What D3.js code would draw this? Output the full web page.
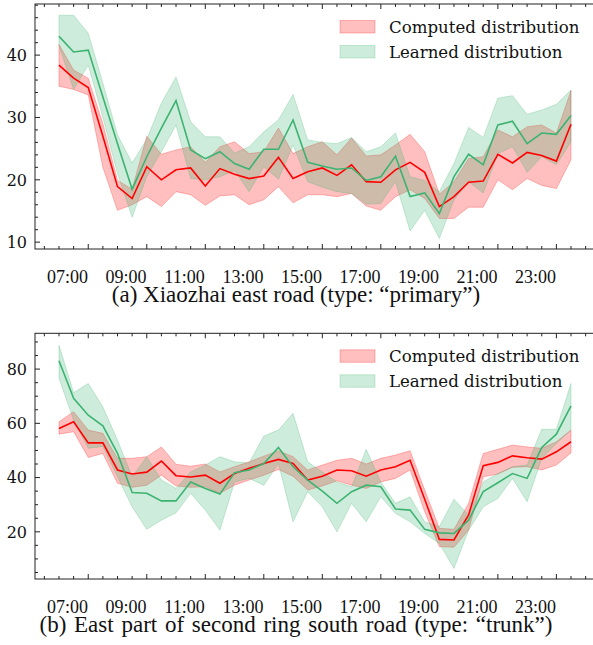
<!DOCTYPE html>
<html>
<head>
<meta charset="utf-8">
<script src="https://cdn.jsdelivr.net/npm/d3@7"></script>
<style>
body { margin: 0; background: #fff; }
svg text { fill: #111; }
</style>
</head>
<body>
<svg id="fig" width="593" height="645"></svg>
<script>
// half-hour slots
var times = ["06:30","07:00","07:30","08:00","08:30","09:00","09:30","10:00","10:30","11:00","11:30","12:00",
	"12:30","13:00","13:30","14:00","14:30","15:00","15:30","16:00","16:30","17:00","17:30","18:00",
	"18:30","19:00","19:30","20:00","20:30","21:00","21:30","22:00","22:30","23:00","23:30","24:00"];
var xLabels = ["07:00","09:00","11:00","13:00","15:00","17:00","19:00","21:00","23:00"];

// (a) Xiaozhai east road
var aCompMean = [38.4,36.3,34.8,27.0,18.9,17.0,22.1,20.0,21.6,21.9,19.0,21.8,20.9,20.2,20.6,23.6,20.2,21.3,21.9,20.7,22.4,19.7,19.6,21.6,22.8,21.2,15.7,17.3,19.6,19.8,24.1,22.7,24.4,23.9,23.0,28.9];
var aCompHigh = [41.7,37.6,36.3,29.0,19.9,18.5,27.0,24.1,24.8,25.3,22.8,25.3,26.1,24.2,24.5,28.3,24.2,25.3,26.1,24.0,26.7,23.8,24.0,25.6,27.3,24.5,17.7,19.7,23.4,23.7,28.0,26.9,28.5,28.8,27.5,34.3];
var aCompLow  = [35.0,34.5,33.6,22.0,15.1,16.0,17.3,15.7,18.1,17.6,15.9,17.4,17.6,16.0,16.8,18.9,16.3,17.6,17.6,17.3,17.8,15.8,15.1,17.3,18.4,17.0,13.8,13.8,15.6,15.6,20.0,18.4,20.2,19.1,18.6,23.2];
var aLearnMean = [43.0,40.5,40.8,33.3,25.8,18.5,23.7,28.3,32.7,24.8,23.4,24.5,22.6,21.7,24.9,24.9,29.6,22.8,22.2,21.7,21.9,19.9,20.5,23.8,17.3,17.9,14.6,20.5,24.1,22.4,28.8,29.4,25.8,27.5,27.3,30.3];
var aLearnHigh = [46.4,46.4,43.5,35.5,27.2,22.7,26.5,32.3,36.5,29.3,26.9,26.9,24.3,25.3,27.7,29.6,33.7,26.4,26.0,25.8,26.8,24.5,25.3,27.5,20.5,19.9,18.1,22.6,28.4,26.8,33.1,33.5,30.5,31.2,32.1,34.4];
var aLearnLow  = [41.5,34.5,38.4,30.0,21.0,14.0,20.5,24.5,28.8,20.2,20.0,20.5,21.5,18.1,22.1,20.1,25.6,19.7,18.8,18.1,17.8,16.1,16.2,19.7,11.8,15.1,10.6,16.8,19.7,17.9,24.2,25.3,21.2,23.7,22.4,26.1];

// (b) East part of second ring south road
var bCompMean = [58.1,60.6,52.8,52.8,42.8,41.3,42.0,46.1,40.7,40.2,40.9,37.9,41.5,43.4,45.2,46.7,45.2,39.1,40.5,42.8,42.5,40.5,42.8,44.0,46.4,32.0,17.2,17.0,26.2,44.4,45.6,48.0,47.3,46.8,49.5,53.2];
var bCompHigh = [60.6,64.3,57.5,56.3,47.1,47.1,47.7,51.3,44.9,44.2,45.0,42.1,44.0,45.8,47.9,49.9,47.7,42.8,44.6,46.4,47.1,45.0,47.1,48.3,49.9,35.4,21.3,20.9,30.5,48.9,50.4,52.0,51.3,50.8,53.2,57.5];
var bCompLow  = [56.0,56.9,47.4,48.9,37.9,36.4,37.2,40.9,36.9,36.4,36.6,34.2,37.2,39.1,40.9,43.0,40.5,35.4,36.9,38.8,37.2,36.0,38.4,39.7,42.8,27.4,14.5,14.3,20.6,40.3,41.3,43.8,44.0,42.8,44.6,49.1];
var bLearnMean = [83.1,69.2,63.0,59.1,48.9,34.5,34.2,31.4,31.4,38.4,36.0,33.9,41.8,42.8,45.2,51.1,44.0,39.1,35.0,30.5,34.8,37.2,36.6,28.4,28.0,20.9,19.6,19.4,24.3,34.8,38.1,41.5,39.7,51.1,56.0,66.4];
var bLearnHigh = [88.8,71.3,74.7,66.0,53.8,40.3,47.7,39.1,36.0,42.1,44.6,47.7,45.8,45.4,55.3,57.5,63.7,45.8,42.1,38.4,36.6,50.4,38.4,30.5,32.9,23.7,21.9,32.0,26.2,38.4,41.5,44.0,44.6,57.8,57.8,74.7];
var bLearnLow  = [76.6,61.2,50.8,51.5,40.3,29.2,20.9,24.3,27.0,34.2,28.0,20.6,38.4,39.7,37.2,45.2,23.7,34.8,29.2,20.0,30.5,23.7,32.9,26.8,23.7,19.4,15.7,6.5,20.6,29.2,32.3,39.7,31.1,47.1,52.6,57.5];

var seriesNames = ["Computed distribution", "Learned distribution"];
var seriesColors = ["#ff0000", "#3cb371"];

var svg = d3.select("#fig");

var x = d3.scaleLinear().domain([-1.64, 36.64]).range([35, 595]);

function drawPanel(p) {
	var g = svg.append("g");
	var y = d3.scaleLinear().domain(p.yDomain).range([p.bottom, p.top]);
	var clipId = "clip" + p.id;
	g.append("clipPath").attr("id", clipId).append("rect")
		.attr("x", 35).attr("y", p.top).attr("width", 560).attr("height", p.bottom - p.top);

	var plot = g.append("g").attr("clip-path", "url(#" + clipId + ")");
	var sets = [
		{mean: p.comp[0], low: p.comp[1], high: p.comp[2], color: seriesColors[0]},
		{mean: p.learn[0], low: p.learn[1], high: p.learn[2], color: seriesColors[1]}
	];
	var area = d3.area()
		.x(function(d) { return x(times.indexOf(d.t)); })
		.y0(function(d) { return y(d.lo); })
		.y1(function(d) { return y(d.hi); });
	var line = d3.line()
		.x(function(d, i) { return x(i); })
		.y(function(d) { return y(d); });

	sets.forEach(function(s) {
		var rows = times.map(function(t, i) { return {t: t, lo: s.low[i], hi: s.high[i]}; });
		plot.append("path").datum(rows)
			.attr("d", area)
			.attr("fill", s.color).attr("fill-opacity", 0.25)
			.attr("stroke", s.color).attr("stroke-opacity", 0.25).attr("stroke-width", 1);
	});
	sets.forEach(function(s) {
		plot.append("path").datum(s.mean)
			.attr("d", line)
			.attr("fill", "none").attr("stroke", s.color).attr("stroke-width", 1.6);
	});

	// frame
	g.append("rect").attr("x", 35).attr("y", p.top).attr("width", 560).attr("height", p.bottom - p.top)
		.attr("fill", "none").attr("stroke", "#222").attr("stroke-width", 1);

	// x ticks, inward on bottom and top
	var xt = d3.range(-1, 37);
	xt.forEach(function(v) {
		var len = ((v - 2) % 4 === 0) ? 5 : 3;
		g.append("line").attr("x1", x(v)).attr("x2", x(v)).attr("y1", p.bottom).attr("y2", p.bottom - len)
			.attr("stroke", "#222");
		g.append("line").attr("x1", x(v)).attr("x2", x(v)).attr("y1", p.top).attr("y2", p.top + len)
			.attr("stroke", "#222");
	});

	// y ticks
	var ymin = d3.range(Math.ceil(p.yDomain[0] / p.minorStep) * p.minorStep, p.yDomain[1], p.minorStep);
	ymin.forEach(function(v) {
		var major = p.yMajor.indexOf(v) >= 0;
		g.append("line").attr("x1", 35).attr("x2", 35 + (major ? 5 : 3))
			.attr("y1", y(v)).attr("y2", y(v)).attr("stroke", "#222");
	});
	g.selectAll("text.ytick").data(p.yMajor).enter().append("text")
		.attr("class", "ytick")
		.attr("x", 27).attr("y", function(d) { return y(d); })
		.attr("dy", "0.36em")
		.attr("text-anchor", "end")
		.style("font-family", "DejaVu Serif").style("font-size", "16px")
		.text(function(d) { return d; });

	// time labels
	g.selectAll("text.xlab").data(xLabels).enter().append("text")
		.attr("class", "xlab")
		.attr("x", function(d) { return x(times.indexOf(d) - 0.42); })
		.attr("y", p.bottom + 33.5)
		.attr("text-anchor", "middle")
		.style("font-family", "'Liberation Serif'").style("font-size", "18px")
		.text(function(d) { return d; });

	g.append("text")
		.attr("x", 296).attr("y", p.bottom + 53)
		.attr("text-anchor", "middle")
		.style("font-family", "'Liberation Serif'").style("font-size", "23px")
		.style("word-spacing", p.wordSpacing + "px")
		.text(p.caption);

	// legend
	seriesNames.forEach(function(name, k) {
		var ly = p.top + 16.5 + k * 25;
		g.append("rect").attr("x", 340).attr("y", ly).attr("width", 35).attr("height", 12.5)
			.attr("fill", seriesColors[k]).attr("fill-opacity", 0.25)
			.attr("stroke", seriesColors[k]).attr("stroke-opacity", 0.25);
		g.append("text").attr("x", 389).attr("y", ly + 12)
			.style("font-family", "DejaVu Serif").style("font-size", "16.6px")
			.text(name);
	});
}

drawPanel({id: "a", top: 4, bottom: 249, yDomain: [8.9, 48.2], yMajor: [10, 20, 30, 40], minorStep: 2,
	comp: [aCompMean, aCompLow, aCompHigh], learn: [aLearnMean, aLearnLow, aLearnHigh], wordSpacing: 0,
	caption: "(a) Xiaozhai east road (type: \u201cprimary\u201d)"});
drawPanel({id: "b", top: 333.3, bottom: 579, yDomain: [2.6, 93.2], yMajor: [20, 40, 60, 80], minorStep: 5,
	comp: [bCompMean, bCompLow, bCompHigh], learn: [bLearnMean, bLearnLow, bLearnHigh], wordSpacing: 2,
	caption: "(b) East part of second ring south road (type: \u201ctrunk\u201d)"});
</script>
</body>
</html>
